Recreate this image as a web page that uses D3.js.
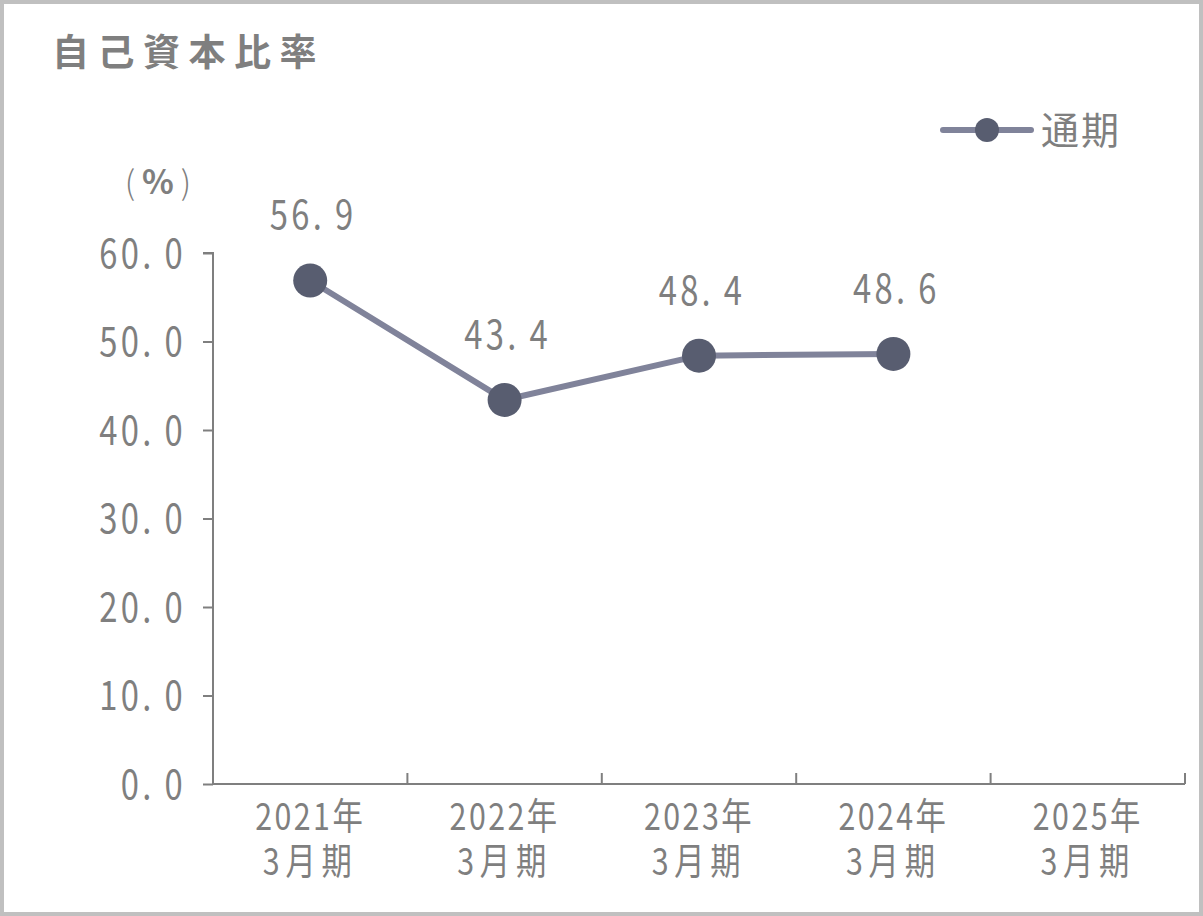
<!DOCTYPE html>
<html><head><meta charset="utf-8">
<script src="https://cdn.jsdelivr.net/npm/d3@7"></script>
<style>
html,body{margin:0;padding:0;background:#fff;}
svg{display:block;}
</style></head>
<body>
<script>
const categories = ["2021年\n3月期","2022年\n3月期","2023年\n3月期","2024年\n3月期","2025年\n3月期"];
const values = [56.9, 43.4, 48.4, 48.6, null];
const yTicks = [0,10,20,30,40,50,60];
const title = "自己資本比率";
const seriesName = "通期";
const unitLabel = ["(","%",")"];

const W = 1203, H = 916;
const svg = d3.select("body").append("svg").attr("width", W).attr("height", H);
const jpFont = "'Noto Sans CJK JP',sans-serif";
const textColor = "#7f7f7f";
const axisColor = "#7f7f7f";
const lineColor = "#80839a";
const markerColor = "#585d70";
const sx = 0.82;

// writes "60.0" as "60." + gap + "0" (monospace-like look)
function fillNum(sel, str){
  const i = str.indexOf(".");
  sel.text(null);
  sel.append("tspan").text(str.slice(0,i+1));
  sel.append("tspan").attr("dx",12).text(str.slice(i+1));
}

svg.append("rect").attr("x",2).attr("y",2).attr("width",W-4).attr("height",H-4)
  .attr("fill","#fff").attr("stroke","#c0c0c0").attr("stroke-width",4);

svg.append("text").attr("x",52).attr("y",66).text(title)
  .attr("font-family",jpFont).attr("font-weight","bold").attr("font-size",37)
  .attr("letter-spacing",8.5).attr("fill",textColor);

const pLeft=213, pRight=1185, pTop=253, pBottom=784;
const x = d3.scaleBand().domain(categories).range([pLeft,pRight]);
const y = d3.scaleLinear().domain([0,60]).range([pBottom,pTop]);

// y axis
const fmt = d3.format(".1f");
const yAxis = d3.axisLeft(y).tickValues(yTicks).tickSize(10).tickFormat(fmt);
const gy = svg.append("g").attr("transform",`translate(${pLeft},0)`).call(yAxis);
gy.select(".domain").attr("stroke",axisColor).attr("stroke-width",2).attr("d",`M-10,${pTop}H0V${pBottom}`);
gy.selectAll(".tick line").attr("stroke",axisColor).attr("stroke-width",2);
gy.selectAll(".tick text").attr("font-family",jpFont).attr("font-size",40).attr("fill",textColor)
  .attr("x",0).attr("dy","0.36em").attr("letter-spacing",4)
  .attr("transform",`translate(-27,0) scale(${sx},1)`)
  .each(function(d){ fillNum(d3.select(this), fmt(d)); });

// x axis
const gx = svg.append("g").attr("transform",`translate(0,${pBottom})`);
gx.append("line").attr("x1",pLeft).attr("x2",pRight).attr("stroke",axisColor).attr("stroke-width",2);
const bounds = [...categories.map(c=>x(c)), pRight];
gx.selectAll(".xt").data(bounds).join("line").attr("class","xt")
  .attr("x1",d=>d).attr("x2",d=>d).attr("y1",0).attr("y2",-11)
  .attr("stroke",axisColor).attr("stroke-width",2);
[0,1].forEach(li=>{
  gx.selectAll(".xl"+li).data(categories).join("text").attr("class","xl"+li)
    .attr("text-anchor","middle").attr("fill",textColor).attr("font-family",jpFont).attr("font-size",37)
    .attr("letter-spacing", li===0 ? 3 : 7)
    .attr("transform",d=>`translate(${x(d)+x.bandwidth()/2},${li===0?46:91}) scale(${sx},1)`)
    .text(d=>d.split("\n")[li]);
});

// unit
const ut = svg.append("text").attr("y",195).attr("text-anchor","middle")
  .attr("font-family",jpFont).attr("font-size",33).attr("fill",textColor);
ut.append("tspan").attr("x",130).attr("font-weight",300).text(unitLabel[0]);
ut.append("tspan").attr("x",158).attr("y",194).attr("font-weight","bold").attr("font-size",33).text(unitLabel[1]);
ut.append("tspan").attr("x",186).attr("y",195).attr("font-weight",300).text(unitLabel[2]);

// line
const pts = categories.map((c,i)=>({c, v: values[i]})).filter(d=>d.v!=null);
const cx = d=>x(d.c)+x.bandwidth()/2;
svg.append("path").datum(pts)
  .attr("d", d3.line().x(cx).y(d=>y(d.v)))
  .attr("fill","none").attr("stroke",lineColor).attr("stroke-width",6).attr("stroke-linejoin","round");
svg.selectAll(".pt").data(pts).join("circle").attr("class","pt")
  .attr("cx",cx).attr("cy",d=>y(d.v)).attr("r",17).attr("fill",markerColor);
svg.selectAll(".lbl").data(pts).join("text").attr("class","lbl")
  .attr("transform",d=>`translate(${cx(d)+3},${y(d.v)-51}) scale(${sx},1)`).attr("text-anchor","middle")
  .attr("font-family",jpFont).attr("font-size",40).attr("letter-spacing",4).attr("fill",textColor)
  .each(function(d){ fillNum(d3.select(this), fmt(d.v)); });

// legend
const lg = svg.append("g");
lg.append("line").attr("x1",943).attr("x2",1031).attr("y1",130).attr("y2",130)
  .attr("stroke",lineColor).attr("stroke-width",6).attr("stroke-linecap","round");
lg.append("circle").attr("cx",987).attr("cy",130).attr("r",12).attr("fill",markerColor);
lg.append("text").attr("x",1041).attr("y",130).attr("dy","0.36em").text(seriesName)
  .attr("font-family",jpFont).attr("font-size",38).attr("letter-spacing",2).attr("fill",textColor);
</script>
</body></html>
